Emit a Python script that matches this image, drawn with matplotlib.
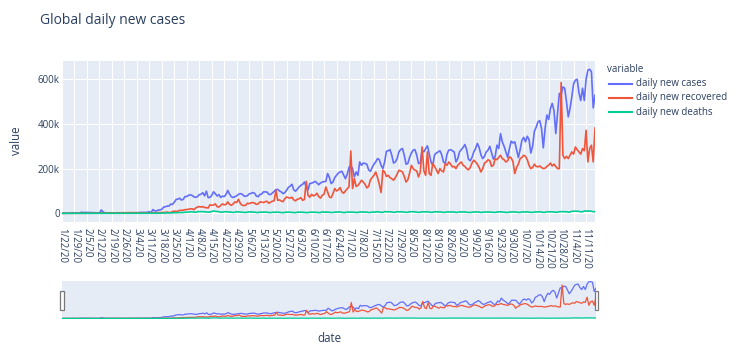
import matplotlib
matplotlib.use("Agg")
import matplotlib.pyplot as plt
import numpy as np
import pandas as pd
from matplotlib.lines import Line2D
from matplotlib.patches import Rectangle

plt.rcParams['font.family'] = ['Open Sans', 'DejaVu Sans']

# ---------------- data (values in thousands) ----------------
cases_jan = [0, 0.099, 0.287, 0.493, 0.684, 0.809, 2.651, 0.588, 2.068, 1.693]
cases_feb = [2.111, 4.749, 3.094, 4.011, 3.743, 3.159, 3.597, 2.729, 3.030, 2.612, 2.040, 0.419,
             15.147, 6.517, 2.145, 2.194, 2.034, 1.878, 0.503, 0.558, 0.622, 1.753, 0.386, 0.603,
             0.845, 0.982, 1.358, 1.366, 1.899]
cases_mar = [2.358, 1.937, 2.534, 2.280, 2.766, 3.915, 4.046, 3.974, 3.769, 5.030, 7.255, 2.477,
             16.853, 10.896, 11.353, 14.120, 15.528, 17.719, 27.749, 29.638, 32.299, 32.446,
             41.282, 39.810, 49.608, 61.938, 63.700, 67.415, 59.411, 62.248, 75.122]
cases_apr = [75.1, 80.6, 82.8, 80.1, 73.7, 71.7, 75.0, 83.3, 85.5, 92.2, 78.1, 99.1, 70.1, 71.4, 79.9,
             96.4, 87.8, 77.6, 83.6, 70.9, 77.0, 74.8, 84.8, 102.3, 85.6, 74.7, 70.3, 74.6, 78, 85]
cases_may = [88, 86, 78, 76, 79, 87, 89, 93, 90, 78, 74, 84, 86, 96, 96, 95, 85, 84, 91, 98,
             106, 107, 100, 96, 88, 93, 103, 116, 122, 130, 105]
cases_jun = [99, 108, 118, 125, 130, 140, 118, 105, 133, 135, 138, 143, 136, 128, 136, 140, 142, 143,
             178, 160, 133, 140, 160, 170, 180, 185, 188, 172, 155, 175]
cases_jul = [205, 215, 200, 163, 185, 170, 230, 215, 225, 223, 220, 195, 188, 205, 220, 230, 245, 240,
             215, 200, 230, 278, 280, 285, 260, 225, 230, 245, 275, 286, 290]
cases_aug = [260, 220, 223, 250, 270, 283, 285, 260, 223, 225, 283, 275, 290, 302, 265, 230, 215, 262,
             270, 275, 280, 262, 230, 223, 265, 283, 285, 280, 275, 230, 245]
cases_sep = [275, 285, 295, 308, 285, 243, 235, 250, 275, 290, 313, 295, 262, 245, 255, 275, 283, 300,
             270, 243, 255, 305, 290, 357, 320, 300, 275, 250, 290, 323]
cases_oct = [315, 320, 285, 250, 285, 327, 340, 320, 345, 330, 270, 300, 368, 385, 410, 415, 380, 293,
             380, 440, 420, 470, 492, 460, 357, 450, 537, 530, 566, 560, 500]
cases_nov = [432, 470, 522, 580, 596, 600, 540, 505, 560, 505, 600, 641, 645, 634, 472, 529]

recov_jan = [0, 0, 0, 0, 0, 0, 0, 0.1, 0, 0]
recov_feb = [0.1, 0.1, 0.2, 0.2, 0.2, 0.3, 0.4, 0.5, 0.6, 0.6, 0.7, 0.7, 1.2, 1.8, 1.4, 1.8, 1.8, 1.9,
             2.2, 2.3, 2.2, 2.3, 2.6, 2.1, 2.8, 2.5, 2.9, 2.7, 2.8]
recov_mar = [2.6, 2.8, 2.7, 2.5, 2.3, 2.1, 2.2, 1.8, 2.0, 1.8, 1.7, 1.7, 1.6, 2.8, 2.6, 3.2, 3.0, 3.8,
             4.0, 3.9, 5.6, 3.5, 3.8, 7.5, 10.0, 8.0, 9.5, 13.0, 13.0, 14.0, 16.0]
recov_apr = [17, 18, 20, 20, 16, 24, 28, 30, 28, 30, 26, 25, 24, 38, 36, 37, 42, 30, 28, 35, 42, 38,
             40, 51, 40, 36, 42, 51, 48, 63]
recov_may = [45, 36, 35, 36, 45, 43, 47, 48, 46, 40, 42, 51, 50, 48, 52, 54, 45, 50, 54, 56, 103, 58,
             60, 55, 52, 66, 73, 70, 68, 72, 60]
recov_jun = [56, 63, 65, 70, 58, 62, 143, 81, 72, 85, 78, 81, 90, 75, 68, 81, 85, 118, 95, 73, 70, 88,
             111, 100, 105, 115, 96, 90, 100, 110]
recov_jul = [118, 279, 111, 155, 120, 125, 135, 148, 140, 130, 114, 120, 150, 160, 170, 185, 160, 130,
             93, 193, 185, 165, 170, 160, 155, 148, 160, 175, 193, 190, 185]
recov_aug = [165, 140, 150, 180, 215, 200, 193, 190, 163, 185, 297, 190, 170, 275, 178, 170, 223, 210,
             195, 178, 200, 190, 185, 223, 215, 230, 220, 208, 210, 200, 215]
recov_sep = [223, 230, 215, 210, 200, 195, 205, 225, 238, 230, 220, 205, 185, 200, 225, 230, 240, 235,
             210, 215, 245, 240, 250, 260, 245, 240, 230, 235, 253, 248]
recov_oct = [230, 178, 205, 220, 245, 250, 260, 255, 240, 215, 200, 205, 220, 210, 208, 212, 205, 200,
             202, 210, 215, 225, 212, 220, 210, 200, 200, 586, 260, 245, 255]
recov_nov = [245, 260, 275, 265, 297, 285, 275, 265, 290, 280, 372, 230, 290, 305, 230, 382]

death_jan = [0, 0, 0, 0, 0, 0, 0, 0, 0, 0]
death_feb = [0, 0, 0.1, 0.1, 0.1, 0.1, 0.1, 0.1, 0.1, 0.1, 0.1, 0.1, 0.3, 0.1, 0.1, 0.1, 0.1, 0.1,
             0.1, 0.1, 0.1, 0, 0.2, 0.1, 0.1, 0, 0.1, 0, 0.1]
death_mar = [0.1, 0.1, 0.1, 0.1, 0.1, 0.1, 0.1, 0.2, 0.2, 0.3, 0.3, 0.3, 0.4, 0.4, 0.4, 0.8, 0.9, 1.0,
             1.2, 1.3, 1.7, 1.7, 1.8, 2.3, 2.5, 2.8, 3.5, 3.6, 3.4, 3.4, 4.8]
death_apr = [4.9, 5.7, 6.5, 6.2, 5.5, 4.8, 6.6, 7.8, 7.1, 7.4, 6.6, 6.0, 5.1, 5.6, 7.8, 10.4, 8.5, 8.5,
             6.5, 5.2, 4.8, 7.3, 6.8, 6.4, 6.1, 5.1, 3.8, 4.7, 6.9, 6.3]
death_may = [5.3, 5.2, 4.7, 3.5, 4.7, 6.3, 5.7, 5.4, 5.0, 3.8, 3.4, 4.8, 5.3, 5.3, 5.2, 5.0, 3.4, 3.2,
             4.5, 4.8, 4.8, 5.0, 4.2, 3.1, 2.6, 4.0, 5.2, 5.0, 4.6, 4.3, 3.0]
death_jun = [3.3, 4.5, 5.1, 5.2, 4.7, 4.1, 2.8, 3.3, 4.7, 5.0, 5.1, 4.4, 4.2, 3.3, 3.4, 6.3, 5.3, 5.3,
             5.2, 4.3, 3.6, 3.6, 5.2, 5.1, 6.6, 5.3, 4.6, 3.2, 3.7, 5.4]
death_jul = [5.6, 5.1, 4.9, 4.8, 3.6, 3.7, 5.6, 6.2, 5.5, 5.4, 5.0, 3.8, 3.8, 5.3, 5.7, 5.6, 7.0, 5.4,
             4.2, 4.3, 7.1, 7.0, 6.8, 6.2, 5.8, 4.4, 4.6, 7.0, 6.7, 6.5, 6.4]
death_aug = [5.6, 4.2, 4.4, 6.8, 7.0, 7.2, 6.3, 5.9, 4.2, 4.7, 6.6, 6.6, 6.2, 6.2, 5.6, 4.1, 4.6, 6.7,
             6.6, 6.0, 6.1, 5.4, 3.9, 4.2, 6.4, 6.3, 5.8, 5.6, 5.4, 4.1, 4.2]
death_sep = [6.3, 6.0, 5.8, 5.9, 5.0, 3.9, 3.9, 4.6, 6.0, 6.1, 5.8, 5.2, 3.9, 4.3, 5.7, 6.0, 5.9, 5.3,
             5.0, 3.9, 3.9, 5.5, 6.5, 6.1, 5.8, 5.2, 3.8, 3.8, 5.4, 6.2]
death_oct = [6.0, 5.9, 5.5, 3.9, 4.1, 6.0, 5.8, 6.0, 6.0, 5.3, 4.1, 3.9, 5.8, 6.0, 6.1, 6.3, 5.6, 4.0,
             4.4, 6.4, 6.8, 6.5, 6.3, 5.9, 4.3, 4.9, 7.1, 7.3, 7.4, 7.2, 6.6]
death_nov = [5.1, 5.5, 9.0, 9.2, 9.5, 9.0, 8.5, 6.8, 6.8, 10.3, 10.1, 9.9, 10.2, 9.0, 6.9, 7.9]

series_names = ["daily new cases", "daily new recovered", "daily new deaths"]
series_colors = ["#636EFA", "#EF553B", "#00CC96"]
yticks = [0, 200000, 400000, 600000]
ytick_labels = ["0", "200k", "400k", "600k"]

cases = np.array(cases_jan + cases_feb + cases_mar + cases_apr + cases_may + cases_jun +
                 cases_jul + cases_aug + cases_sep + cases_oct + cases_nov) * 1000
recovered = np.array(recov_jan + recov_feb + recov_mar + recov_apr + recov_may + recov_jun +
                     recov_jul + recov_aug + recov_sep + recov_oct + recov_nov) * 1000
deaths = np.array(death_jan + death_feb + death_mar + death_apr + death_may + death_jun +
                  death_jul + death_aug + death_sep + death_oct + death_nov) * 1000

dates = [f"{d.month}/{d.day}/{d.year % 100}" for d in pd.date_range("2020-01-22", periods=len(cases))]
x = np.arange(len(dates))
series = [cases, recovered, deaths]

# ---------------- figure ----------------
W, H = 739, 347
fig = plt.figure(figsize=(W / 100, H / 100), dpi=100)
TXT = "#2a3f5f"
BG = "#E5ECF6"


def fx(px):
    return px / W


def fy(py):
    return 1 - py / H


ax = fig.add_axes([fx(62), fy(221.7), (595 - 62) / W, (221.7 - 61) / H])
ax.set_facecolor(BG)
for s in ax.spines.values():
    s.set_visible(False)
for vals, c, n in zip(series, series_colors, series_names):
    ax.plot(x, vals, color=c, lw=1.2, label=n, zorder=3)
ax.set_xlim(0, len(x) - 1)
ax.set_ylim(-37600, 682000)
ax.set_yticks(yticks)
ax.set_yticklabels(ytick_labels)
ax.set_xticks(x[::7])
ax.set_xticklabels(dates[::7], rotation=-90, ha="center", va="top")
ax.tick_params(axis="both", length=0, colors=TXT, labelsize=7.05)
ax.tick_params(axis="y", pad=1.5)
ax.tick_params(axis="x", pad=4.2)
ax.grid(True, color="white", lw=0.75)
ax.set_axisbelow(True)
ax.axhline(0, color="white", lw=1.4, zorder=1.5)

# range slider
sl = fig.add_axes([fx(62), fy(319), (596 - 62) / W, 38 / H])
sl.set_facecolor(BG)
for s in sl.spines.values():
    s.set_visible(False)
for vals, c in zip(series, series_colors):
    sl.plot(x, vals, color=c, lw=0.9)
sl.set_xlim(0, len(x) - 1)
sl.set_ylim(-10000, 655000)
sl.set_xticks([])
sl.set_yticks([])
for hx in (60.0, 594.5):
    fig.add_artist(Rectangle((fx(hx), fy(310)), 3.5 / W, 19 / H, transform=fig.transFigure,
                             facecolor="white", edgecolor="#777777", lw=0.9, zorder=10))

# texts
fig.text(fx(40), fy(24), "Global daily new cases", fontsize=10, color=TXT, va="baseline", ha="left")
fig.text(fx(16), fy(141), "value", rotation=90, fontsize=8.3, color=TXT, ha="center", va="center")
fig.text(fx(329), fy(339), "date", fontsize=8.3, color=TXT, ha="center", va="center")

# legend
fig.text(fx(607), fy(69), "variable", fontsize=7.05, color=TXT, ha="left", va="center")
for i, (c, n) in enumerate(zip(series_colors, series_names)):
    yy = 83.5 + 14.3 * i
    fig.add_artist(Line2D([fx(609), fx(632)], [fy(yy), fy(yy)], color=c, lw=1.5,
                          transform=fig.transFigure))
    fig.text(fx(636), fy(yy), n, fontsize=7.05, color=TXT, ha="left", va="center")

fig.savefig("out.png", dpi=100)
